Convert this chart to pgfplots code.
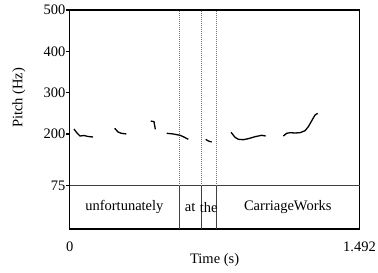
\documentclass[border=0pt]{standalone}
\usepackage{pgfplots}
\pgfplotsset{compat=1.18}
\usepackage{fontspec}
\setmainfont{Liberation Serif}
\begin{document}
\begin{tikzpicture}[font=\fontsize{14.5bp}{17bp}\selectfont]
\path[use as bounding box] (-69.7bp,-44bp) rectangle (308.3bp,229bp);
\begin{axis}[
  at={(0,0)}, anchor=south west,
  scale only axis, width=289.8bp, height=219bp,
  xmin=0, xmax=1.492, ymin=-29.74, ymax=500,
  xtick={0,1.492}, xticklabels={0,1.492},
  ytick={75,200,300,400,500}, yticklabels={75,200,300,400,500},
  ytick pos=left, xtick pos=bottom,
  tick align=outside,
  major tick length=3.5bp,
  xtick style={draw=none},
  ytick style={line width=1.2bp, black},
  axis line style={line width=1.6bp},
  xticklabel style={anchor=center, yshift=-14bp},
  yticklabel style={anchor=east, inner sep=0pt, xshift=-0.5bp},
  /pgf/number format/assume math mode=true,
  clip=false,
]
% tier separators
\addplot[black!75, line width=1bp] coordinates {(0,75) (1.492,75)};
\addplot[black!75, line width=1bp] coordinates {(0.5629,-29.74) (0.5629,75)};
\addplot[black!75, line width=1bp] coordinates {(0.6777,-29.74) (0.6777,75)};
\addplot[black!75, line width=1bp] coordinates {(0.7534,-29.74) (0.7534,75)};
% dotted boundaries
\addplot[black!55, line width=0.9bp, dash pattern=on 1bp off 1bp] coordinates {(0.5629,75) (0.5629,500)};
\addplot[black!55, line width=0.9bp, dash pattern=on 1bp off 1bp] coordinates {(0.6777,75) (0.6777,500)};
\addplot[black!55, line width=0.9bp, dash pattern=on 1bp off 1bp] coordinates {(0.7534,75) (0.7534,500)};
% pitch
\addplot[black, line width=1.3bp] coordinates {(0.022,212.2) (0.0376,202.5) (0.053,195.2) (0.0736,196.4) (0.094,194.0) (0.12,192.8)};
\addplot[black, line width=1.3bp] coordinates {(0.2317,213.9) (0.2487,204.9) (0.2657,201.8) (0.2915,200.1)};
\addplot[black, line width=1.3bp] coordinates {(0.4171,231.5) (0.434,229.8) (0.4408,211.4)};
\addplot[black, line width=1.3bp] coordinates {(0.4995,201.8) (0.5335,200.1) (0.568,196.9) (0.585,193.5) (0.6107,187.2)};
\addplot[black, line width=1.3bp] coordinates {(0.7003,187.2) (0.7137,183.1) (0.7312,180.7)};
\addplot[black, line width=1.3bp] coordinates {(0.8306,204.2) (0.851,192.1) (0.868,187.2) (0.894,186.3) (0.9197,188.7) (0.954,193.5) (0.9887,196.9) (1.009,195.2)};
\addplot[black, line width=1.3bp] coordinates {(1.0999,195.2) (1.1174,201.8) (1.1344,203.2) (1.1602,202.5) (1.1859,203.2) (1.2116,208.0) (1.2286,217.7) (1.2461,232.2) (1.2631,246.0) (1.277,250.1)};
% tier labels
\node at (axis cs:0.2815,22.6) {unfortunately};
\node at (axis cs:0.6203,22.6) {at};
\node at (axis cs:0.7156,22.6) {the};
\node at (axis cs:1.1227,22.6) {CarriageWorks};
% axis labels
\node[rotate=90] at ([xshift=-50.7bp]axis cs:0,287.6) {Pitch (Hz)};
\node at ([yshift=-31bp]axis cs:0.746,-29.74) {Time (s)};
\end{axis}
\end{tikzpicture}
\end{document}
